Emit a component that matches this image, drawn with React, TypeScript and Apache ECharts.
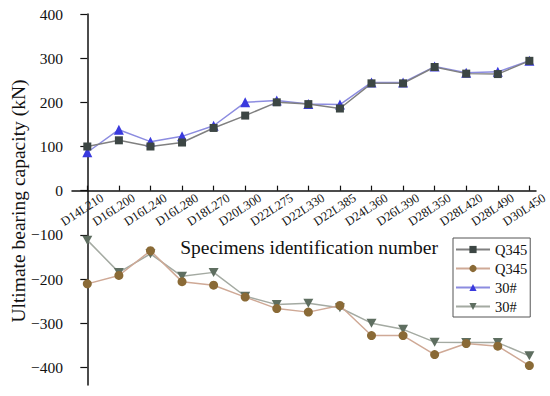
import React, { useEffect, useRef } from "react";
import * as echarts from "echarts";

const categories = [
  "D14L210", "D16L200", "D16L240", "D16L280", "D18L270", "D20L300", "D22L275", "D22L330",
  "D22L385", "D24L360", "D26L390", "D28L350", "D28L420", "D28L490", "D30L450",
];
const q345Top = [100, 114, 100, 109, 142, 170, 200, 196, 186, 243, 243, 280, 265, 264, 294];
const steelTop = [87, 138, 111, 123, 147, 200, 204, 196, 195, 245, 245, 281, 267, 269, 294];
const q345Bottom = [-211, -192, -136, -206, -214, -241, -267, -275, -260, -328, -328, -371, -346, -352, -396];
const steelBottom = [-112, -185, -143, -194, -185, -239, -258, -255, -265, -300, -314, -343, -344, -344, -374];
const yTicks = [-400, -300, -200, -100, 0, 100, 200, 300, 400];
const legendNames = ["Q345-a", "Q345-b", "30#-a", "30#-b"];
const xTitle = "Specimens identification number";
const yTitle = "Ultimate bearing capacity (kN)";

const FONT = "'Times New Roman', 'Liberation Serif', serif";
const DOWN_TRI = "path://M0,0 L10,0 L5,8.66 Z";

export default function App() {
  const ref = useRef<HTMLDivElement>(null);
  useEffect(() => {
    if (!ref.current) return;
    const chart = echarts.init(ref.current, null, { renderer: "svg" });
    const idx = categories.map((_, i) => i);
    const mk = (arr: number[]) => arr.map((v, i) => [i, v]);
    chart.setOption({
      animation: false,
      backgroundColor: "#ffffff",
      textStyle: { fontFamily: FONT },
      grid: [
        { left: 72, right: 14, top: 14, bottom: 11, containLabel: false, outerBoundsMode: "none" },
        { left: 87, right: -1, top: 14, bottom: 205.3, containLabel: false, outerBoundsMode: "none" },
      ],
      graphic: [
        {
          type: "text",
          x: 309,
          y: 247,
          style: {
            text: xTitle,
            fontFamily: FONT,
            fontSize: 19.5,
            fill: "#111",
            align: "center",
            verticalAlign: "middle",
          },
        },
        {
          type: "text",
          x: 18,
          y: 201,
          rotation: Math.PI / 2,
          style: {
            text: yTitle,
            fontFamily: FONT,
            fontSize: 19.5,
            fill: "#111",
            align: "center",
            verticalAlign: "middle",
          },
        },
      ],
      legend: {
        orient: "vertical",
        left: 453,
        top: 238,
        data: legendNames,
        formatter: (n: string) => n.replace(/-[ab]$/, ""),
        borderColor: "#555",
        borderWidth: 1,
        padding: [4, 3, 3, 2],
        itemWidth: 34,
        itemHeight: 9,
        itemGap: 4,
        textStyle: { fontFamily: FONT, fontSize: 14.5, color: "#111", lineHeight: 14 },
      },
      xAxis: [
        {
          type: "value",
          gridIndex: 0,
          min: -0.485,
          max: 14.21,
          axisLine: { onZero: true, lineStyle: { color: "#111", width: 1.5 } },
          axisTick: { show: true, inside: true, length: 5, customValues: idx, lineStyle: { color: "#111", width: 1.2 } },
          axisLabel: { show: false },
          splitLine: { show: false },
        },
        {
          type: "value",
          gridIndex: 1,
          position: "bottom",
          min: -0.485,
          max: 14.21,
          axisLine: { show: false },
          axisTick: { show: false },
          splitLine: { show: false },
          axisLabel: {
            show: true,
            customValues: idx,
            rotate: 33,
            margin: 6,
            fontFamily: FONT,
            fontSize: 12.5,
            color: "#111",
            formatter: (v: number) => categories[Math.round(v)] ?? "",
          },
        },
      ],
      yAxis: [
        {
          type: "value",
          gridIndex: 0,
          min: -440,
          max: 400,
          axisLine: { show: true, lineStyle: { color: "#111", width: 1.5 } },
          axisTick: { show: true, inside: false, length: 7, customValues: yTicks, lineStyle: { color: "#111", width: 1.2 } },
          axisLabel: {
            customValues: yTicks,
            margin: 9,
            fontFamily: FONT,
            fontSize: 15.5,
            color: "#111",
            formatter: (v: number) => String(v).replace("-", "\u2212"),
          },
          splitLine: { show: false },
        },
        {
          type: "value",
          gridIndex: 1,
          min: 0,
          max: 400,
          show: false,
        },
      ],
      series: [
        {
          name: legendNames[0],
          type: "line",
          xAxisIndex: 0,
          yAxisIndex: 0,
          data: mk(q345Top),
          symbol: "rect",
          symbolSize: 8,
          itemStyle: { color: "#3c4644" },
          lineStyle: { color: "#808080", width: 1.5 },
          z: 3,
        },
        {
          name: legendNames[1],
          type: "line",
          xAxisIndex: 0,
          yAxisIndex: 0,
          data: mk(q345Bottom),
          symbol: "circle",
          symbolSize: 9,
          itemStyle: { color: "#8a6a36" },
          lineStyle: { color: "#cfa996", width: 1.5 },
          z: 3,
        },
        {
          name: legendNames[2],
          type: "line",
          xAxisIndex: 0,
          yAxisIndex: 0,
          data: mk(steelTop),
          symbol: "triangle",
          symbolSize: 10,
          itemStyle: { color: "#3a3ade" },
          lineStyle: { color: "#8c8ce0", width: 1.5 },
          z: 2,
        },
        {
          name: legendNames[3],
          type: "line",
          xAxisIndex: 0,
          yAxisIndex: 0,
          data: mk(steelBottom),
          symbol: DOWN_TRI,
          symbolSize: [10, 9],
          itemStyle: { color: "#5e6e60" },
          lineStyle: { color: "#a4aaa2", width: 1.5 },
          z: 2,
        },
      ],
    });
    return () => chart.dispose();
  }, []);
  return (
    <div
      ref={ref}
      style={{ position: "fixed", left: 0, top: 0, width: 550, height: 396, background: "#fff" }}
    />
  );
}
